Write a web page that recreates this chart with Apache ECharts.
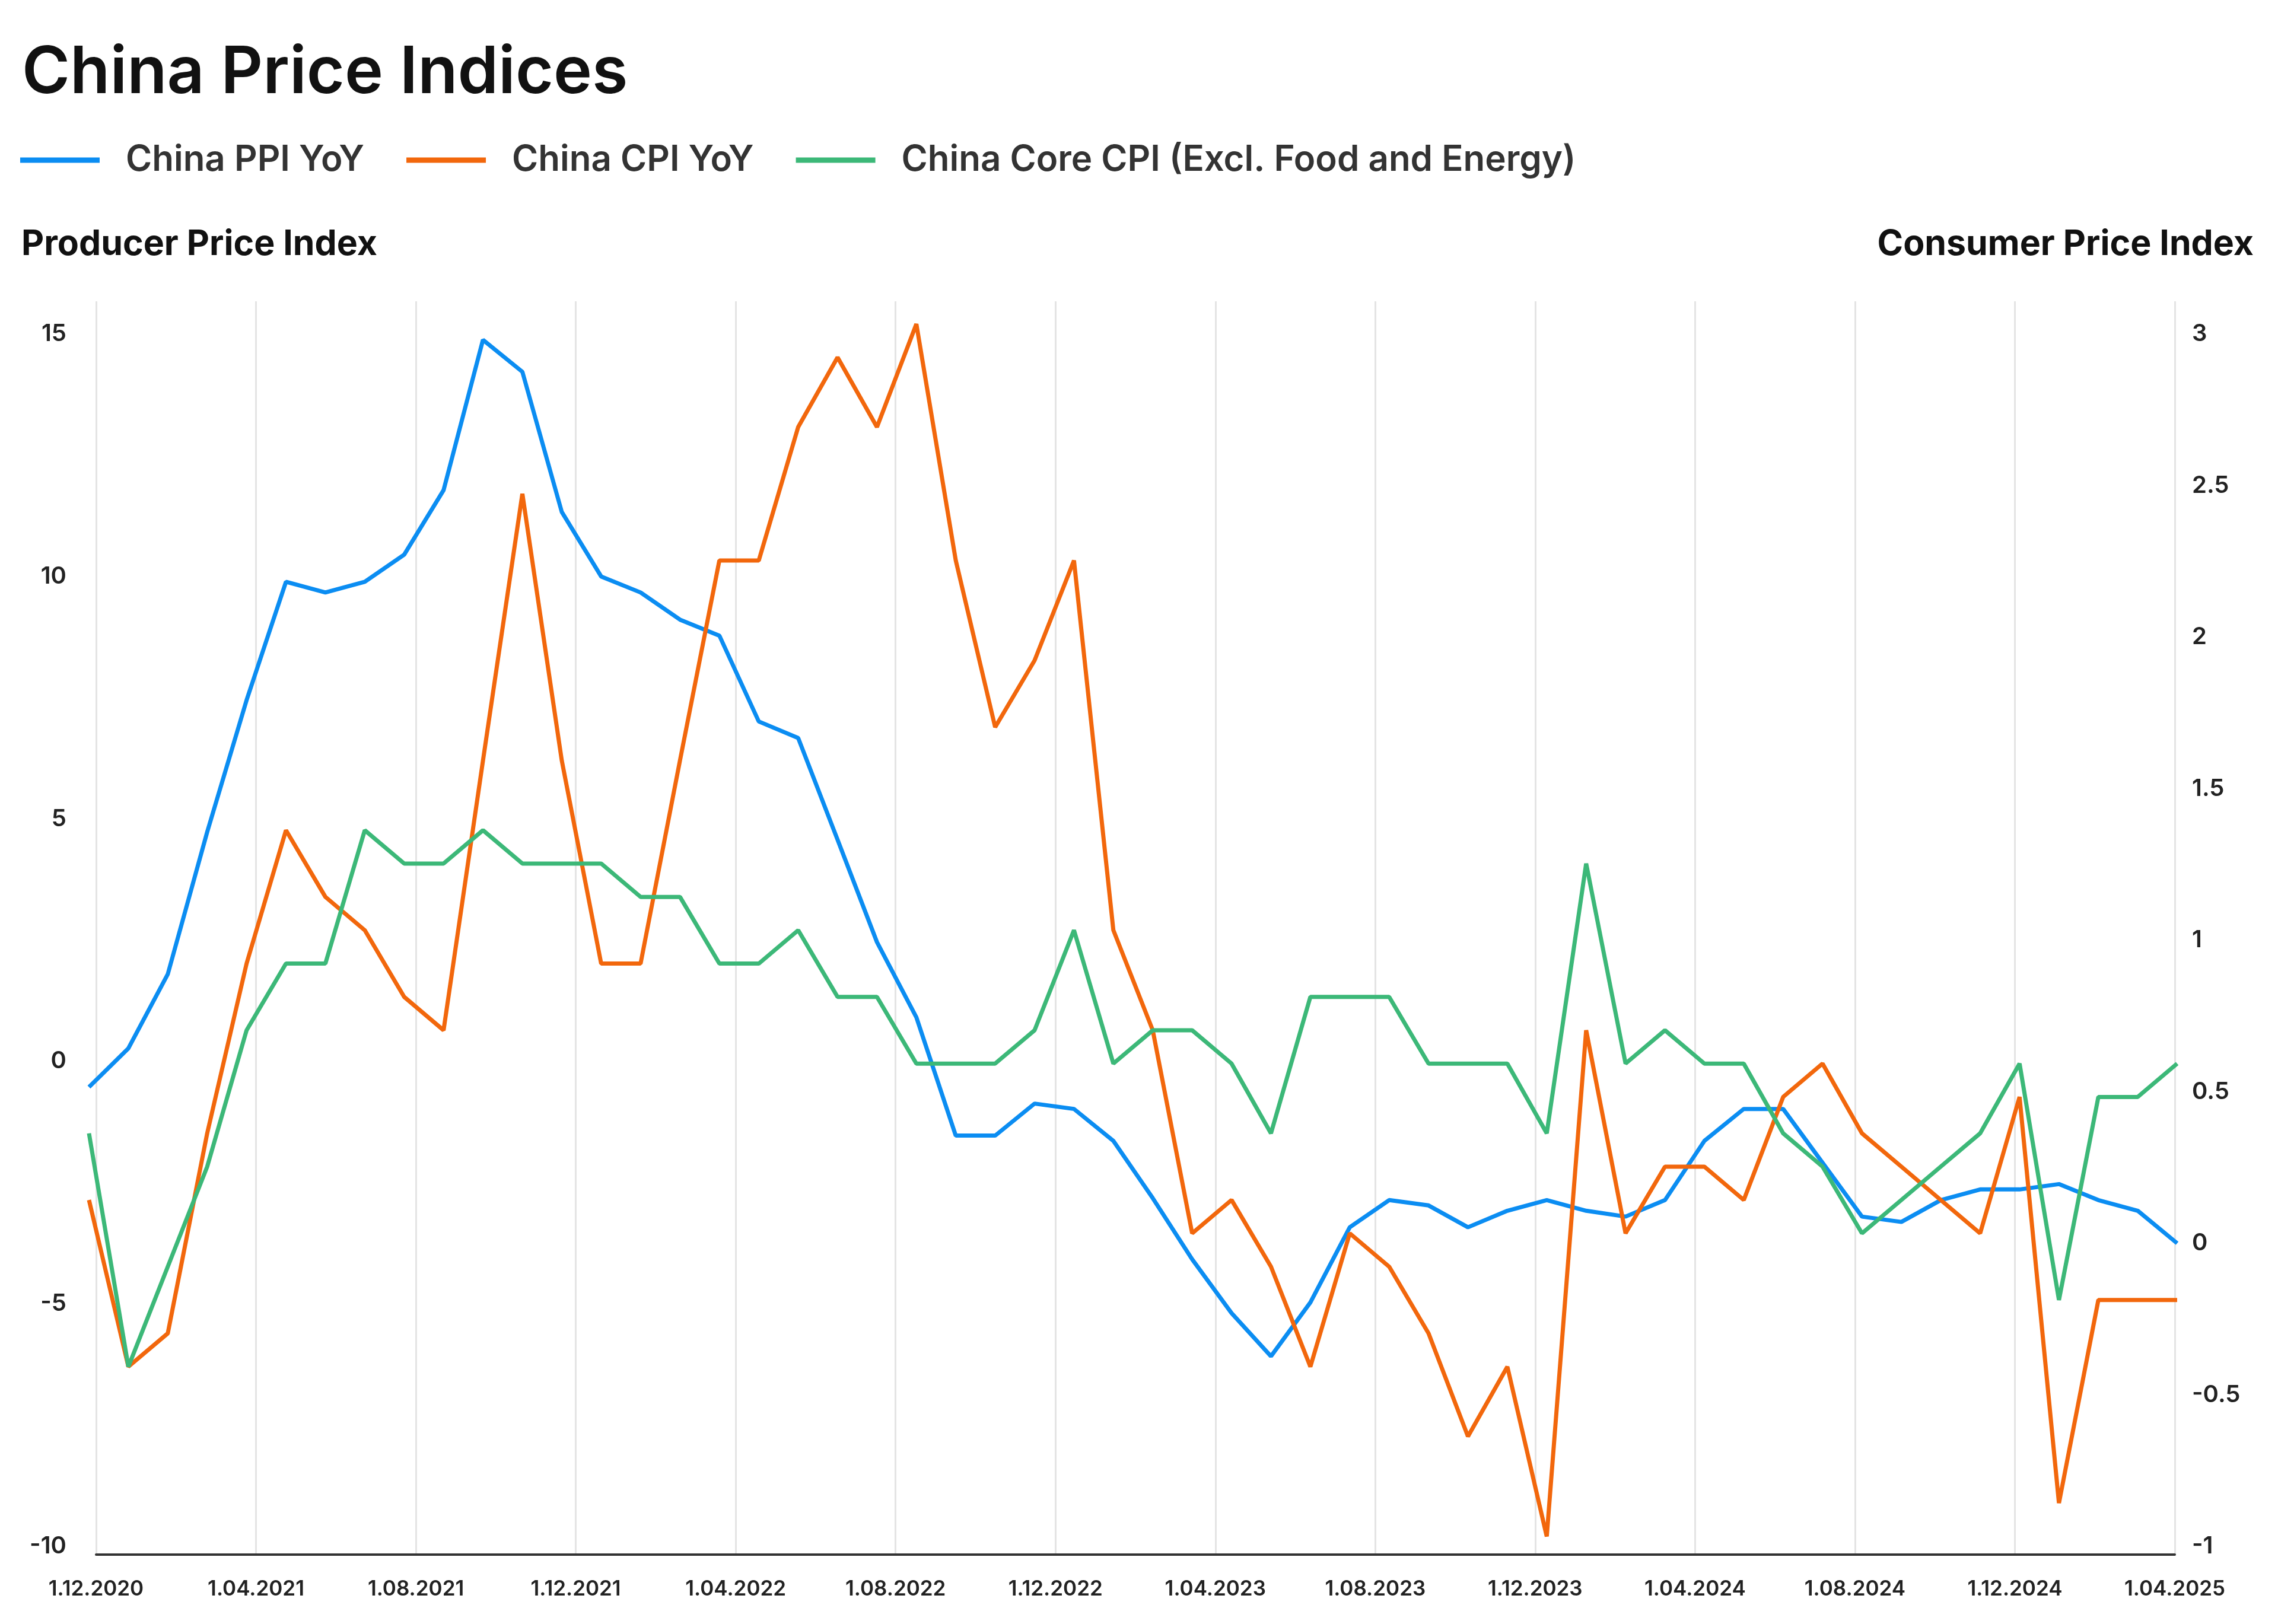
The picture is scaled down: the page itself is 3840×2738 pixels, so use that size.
<!DOCTYPE html>
<html>
<head>
<meta charset="utf-8">
<script src="https://cdn.jsdelivr.net/npm/echarts@6/dist/echarts.min.js"></script>
<style>
html,body{margin:0;padding:0;background:#fff;}
#c{width:3840px;height:2738px;}
</style>
</head>
<body>
<div id="c"></div>
<script>
// ---- data ----
const months = [
 '2020-12','2021-01','2021-02','2021-03','2021-04','2021-05','2021-06','2021-07','2021-08','2021-09','2021-10','2021-11',
 '2021-12','2022-01','2022-02','2022-03','2022-04','2022-05','2022-06','2022-07','2022-08','2022-09','2022-10','2022-11',
 '2022-12','2023-01','2023-02','2023-03','2023-04','2023-05','2023-06','2023-07','2023-08','2023-09','2023-10','2023-11',
 '2023-12','2024-01','2024-02','2024-03','2024-04','2024-05','2024-06','2024-07','2024-08','2024-09','2024-10','2024-11',
 '2024-12','2025-01','2025-02','2025-03','2025-04','2025-05'
];
const xTickLabels = ['1.12.2020','1.04.2021','1.08.2021','1.12.2021','1.04.2022','1.08.2022','1.12.2022',
 '1.04.2023','1.08.2023','1.12.2023','1.04.2024','1.08.2024','1.12.2024','1.04.2025'];
const ppi = [-0.36,0.44,1.97,4.9,7.62,10.06,9.84,10.06,10.62,11.95,15.05,14.39,11.5,10.17,9.84,9.28,8.95,7.18,6.84,4.74,
 2.63,1.08,-1.36,-1.36,-0.7,-0.81,-1.47,-2.65,-3.91,-5.02,-5.91,-4.8,-3.25,-2.69,-2.8,-3.25,-2.91,-2.69,-2.91,-3.03,
 -2.69,-1.47,-0.81,-0.81,-1.92,-3.03,-3.14,-2.69,-2.47,-2.47,-2.36,-2.69,-2.91,-3.58];
const cpi = [0.17,-0.38,-0.27,0.39,0.95,1.39,1.17,1.06,0.84,0.73,1.62,2.5,1.62,0.95,0.95,1.62,2.28,2.28,2.72,2.95,
 2.72,3.06,2.28,1.73,1.95,2.28,1.06,0.73,0.06,0.17,-0.05,-0.38,0.06,-0.05,-0.27,-0.61,-0.38,-0.94,0.73,0.06,
 0.28,0.28,0.17,0.51,0.62,0.39,0.28,0.17,0.06,0.51,-0.83,-0.16,-0.16,-0.16];
const core = [0.39,-0.38,-0.05,0.28,0.73,0.95,0.95,1.39,1.28,1.28,1.39,1.28,1.28,1.28,1.17,1.17,0.95,0.95,1.06,0.84,
 0.84,0.62,0.62,0.62,0.73,1.06,0.62,0.73,0.73,0.62,0.39,0.84,0.84,0.84,0.62,0.62,0.62,0.39,1.28,0.62,
 0.73,0.62,0.62,0.39,0.28,0.06,0.17,0.28,0.39,0.62,-0.16,0.51,0.51,0.62];
const seriesNames = ['China PPI YoY','China CPI YoY','China Core CPI (Excl. Food and Energy)'];
const colors = ['#0b8df2','#f2670c','#3cb878'];

// ---- chart ----
const FONT = 'Inter, "Noto Sans", sans-serif';
const chart = echarts.init(document.getElementById('c'), null, {renderer:'canvas', width:3840, height:2738});
const axisTitleStyle = {fontFamily:FONT, fontSize:59, fontWeight:700, color:'#111', lineHeight:59};
const yLabel = {fontFamily:FONT, fontSize:40, fontWeight:600, color:'#222', verticalAlign:'bottom', lineHeight:28};

chart.setOption({
  animation:false,
  backgroundColor:'#ffffff',
  color:colors,
  title:[
    {text:'China Price Indices', left:37, top:69, padding:0,
     textStyle:{fontFamily:FONT, fontSize:110, fontWeight:600, color:'#111', lineHeight:110}},
    {text:'Producer Price Index', left:36, top:383, padding:0, textStyle:axisTitleStyle},
    {text:'Consumer Price Index', right:41, top:383, padding:0, textStyle:axisTitleStyle}
  ],
  legend:{
    left:34, top:240, padding:0, icon:'rect', itemWidth:134, itemHeight:9, itemGap:71,
    data:seriesNames,
    textStyle:{fontFamily:FONT, fontSize:60, fontWeight:600, color:'#333', lineHeight:60, padding:[0,0,0,39]}
  },
  grid:[
    {left:150, right:170, top:577, bottom:117},
    {left:162, right:174, top:508, bottom:117}
  ],
  xAxis:[
    {type:'category', gridIndex:0, data:months, boundaryGap:false, show:false},
    {type:'category', gridIndex:1, data:xTickLabels, boundaryGap:false,
     axisLine:{show:true, lineStyle:{color:'#333', width:4}},
     axisTick:{show:false, interval:0},
     axisLabel:{interval:0, fontFamily:FONT, fontSize:35, fontWeight:600, color:'#222', margin:41, lineHeight:35},
     splitLine:{show:true, interval:0, lineStyle:{color:'#e4e4e4', width:3}}}
  ],
  yAxis:[
    {type:'value', gridIndex:0, position:'left', min:-10, max:15, interval:5,
     axisLine:{show:false}, axisTick:{show:false}, splitLine:{show:false},
     axisLabel:Object.assign({margin:38}, yLabel)},
    {type:'value', gridIndex:0, position:'right', min:-1, max:3, interval:0.5,
     axisLine:{show:false}, axisTick:{show:false}, splitLine:{show:false},
     axisLabel:Object.assign({margin:25}, yLabel)},
    {type:'value', gridIndex:1, show:false, splitLine:{show:false}}
  ],
  series:[
    {name:seriesNames[0], type:'line', xAxisIndex:0, yAxisIndex:0, data:ppi, showSymbol:false, symbol:'none', clip:false,
     lineStyle:{width:7, color:colors[0]}, itemStyle:{color:colors[0]}},
    {name:seriesNames[1], type:'line', xAxisIndex:0, yAxisIndex:1, data:cpi, showSymbol:false, symbol:'none', clip:false,
     lineStyle:{width:7, color:colors[1]}, itemStyle:{color:colors[1]}},
    {name:seriesNames[2], type:'line', xAxisIndex:0, yAxisIndex:1, data:core, showSymbol:false, symbol:'none', clip:false,
     lineStyle:{width:7, color:colors[2]}, itemStyle:{color:colors[2]}}
  ]
});
</script>
</body>
</html>
